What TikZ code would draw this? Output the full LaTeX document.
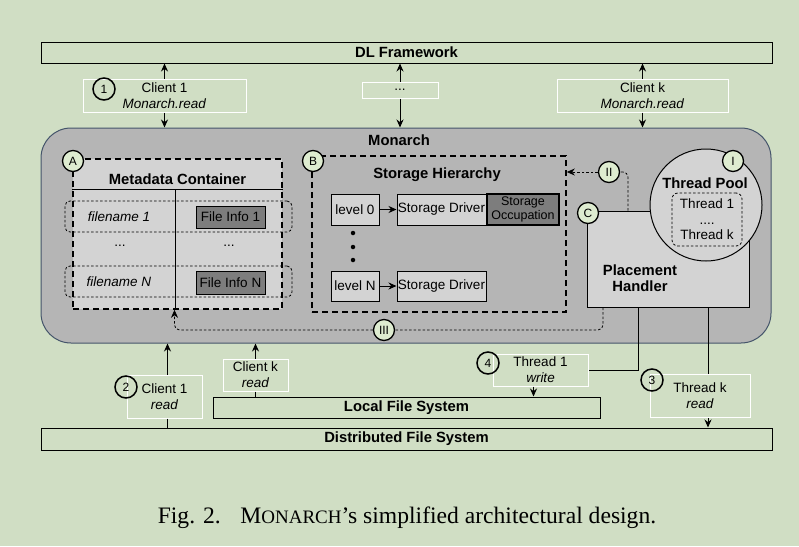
\documentclass[tikz,border=0pt]{standalone}
\usepackage{fontspec}
\setmainfont{Liberation Serif}
\newfontfamily\arialfont{Liberation Sans}
\usetikzlibrary{arrows.meta}
\definecolor{bggreen}{RGB}{208,222,196}
\definecolor{monarchgray}{RGB}{181,181,181}
\definecolor{boxgray}{RGB}{211,211,211}
\definecolor{infogray}{RGB}{125,125,125}
\definecolor{edgeblue}{RGB}{68,84,106}
\definecolor{tagfill}{RGB}{222,236,208}
\newcommand\regfont{\arialfont\fontsize{13.5}{16}\selectfont}
\newcommand\boldfont{\arialfont\bfseries\fontsize{14.8}{16.5}\selectfont}
\newcommand\tagfont{\arialfont\fontsize{12}{12}\selectfont}

\begin{document}
\begin{tikzpicture}[x=1pt, y=-1pt, every node/.style={font=\regfont},
    frame/.style={rectangle, draw, line width=1pt, inner sep=0pt},
    labelbox/.style={rectangle, draw=white, line width=1pt, align=center, inner sep=0pt},
    tag/.style={circle, draw, line width=1.3pt, fill=tagfill, minimum size=21pt, inner sep=0pt, font=\tagfont},
    stepnum/.style={circle, draw, line width=1.5pt, minimum size=22pt, inner sep=0pt, font=\tagfont},
    thickdash/.style={draw, line width=1.6pt, dash pattern=on 6pt off 4pt},
    dotline/.style={line width=0.8pt, dash pattern=on 2.5pt off 2pt},
    >={Stealth[length=8pt, width=7pt]}]
    \useasboundingbox [fill=bggreen] (0, 0) rectangle (799, 546);

    %frameworks and file systems
    \node at (406.5, 52.5) [frame, minimum width=731pt, minimum height=21pt, font=\boldfont] (dl) {DL Framework};
    \node at (406.5, 439) [frame, minimum width=731pt, minimum height=22pt, font=\boldfont] (dfs) {Distributed File System};
    \node at (406.5, 407.5) [frame, minimum width=387pt, minimum height=21pt, font=\boldfont] (lfs) {Local File System};

    %client boxes above
    \node at (164.5, 95.5) [labelbox, minimum width=163pt, minimum height=33pt] (c1) {Client 1\\ \textit{Monarch.read}};
    \node at (400, 90) [labelbox, minimum width=76pt, minimum height=16pt] (cdots) {...};
    \node at (642.5, 95.5) [labelbox, minimum width=171pt, minimum height=33pt] (ck) {Client k\\ \textit{Monarch.read}};

    %client and thread boxes below
    \node at (164.5, 396.5) [labelbox, minimum width=75pt, minimum height=43pt] (c1r) {Client 1\\ \textit{read}};
    \node at (255.5, 375) [labelbox, minimum width=65pt, minimum height=32pt] (ckr) {Client k\\ \textit{read}};
    \node at (540.5, 370) [labelbox, minimum width=95pt, minimum height=32pt] (t1w) {Thread 1\\ \textit{write}};
    \node at (700, 396) [labelbox, minimum width=100pt, minimum height=43pt] (tkr) {Thread k\\ \textit{read}};

    %Monarch
    \node at (406, 235.5) [rectangle, rounded corners=30pt, draw=edgeblue, line width=1pt, fill=monarchgray, minimum width=730pt, minimum height=215pt] (monarch) {};
    \node at (399, 140) [font=\boldfont] (mtitle) {Monarch};

    %Metadata container
    \node at (177.5, 234) [rectangle, fill=boxgray, thickdash, minimum width=209pt, minimum height=150pt] (mc) {};
    \node at (177.5, 179) [font=\boldfont] (mctitle) {Metadata Container};
    \draw [line width=1pt] ([yshift=-31pt]mc.north west) -- ([yshift=-31pt]mc.north east);
    \draw [line width=1pt] ([xshift=-2.5pt, yshift=-31pt]mc.north) -- ([xshift=-2.5pt]mc.south);
    \node at (178.5, 216.5) [rectangle, draw, dotline, rounded corners=5pt, minimum width=227pt, minimum height=31pt] (row1) {};
    \node at (178.5, 281.5) [rectangle, draw, dotline, rounded corners=5pt, minimum width=227pt, minimum height=31pt] (rowN) {};
    \node at (119, 217) (fn1) {\textit{filename 1}};
    \node at (119, 282) (fnN) {\textit{filename N}};
    \node at (230.5, 217) [frame, fill=infogray, minimum width=69pt, minimum height=22pt] (fi1) {File Info 1};
    \node at (230.5, 282.5) [frame, fill=infogray, minimum width=69pt, minimum height=23pt] (fiN) {File Info N};
    \node at (120, 246) (fndots) {...};
    \node at (229, 246) (fidots) {...};

    %Storage hierarchy
    \node at (439, 234) [rectangle, thickdash, minimum width=254pt, minimum height=156pt] (sh) {};
    \node at (437, 175) [font=\boldfont] (shtitle) {Storage Hierarchy};
    \node at (355, 209.5) [frame, fill=boxgray, minimum width=48pt, minimum height=31pt] (lvl0) {level 0};
    \node at (441.5, 209.5) [frame, fill=boxgray, minimum width=89pt, minimum height=31pt] (sd0) {Storage Driver};
    \node at (523, 209.5) [frame, line width=1.6pt, fill=infogray, minimum width=72pt, minimum height=31pt, align=center, font=\arialfont\fontsize{12.5}{14}\selectfont] (occ) {Storage\\ Occupation};
    \node at (355, 286) [frame, fill=boxgray, minimum width=48pt, minimum height=30pt] (lvlN) {level N};
    \node at (441.5, 286) [frame, fill=boxgray, minimum width=89pt, minimum height=30pt] (sdN) {Storage Driver};
    \foreach \dy in {233, 247, 260}
        \node at (353, \dy) [circle, fill, inner sep=0pt, minimum size=4.5pt] (dot\dy) {};
    \draw [->, line width=1pt] (lvl0.east) -- (sd0.west);
    \draw [->, line width=1pt] (lvlN.east) -- (sdN.west);

    %Placement handler and thread pool
    \node at (668, 259) [frame, fill=boxgray, minimum width=162pt, minimum height=96pt] (ph) {};
    \node at (640, 278) [font=\boldfont, align=center] (phtext) {Placement\\ Handler};
    \node at (706, 205) [circle, draw, line width=1pt, fill=boxgray, minimum size=112pt] (pool) {};
    \node at (705, 183) [font=\boldfont] (pooltitle) {Thread Pool};
    \node at (707, 219.5) [rectangle, draw, dotline, rounded corners=6pt, minimum width=70pt, minimum height=53pt, align=center] (threads) {Thread 1\\[-0.5pt] ....\\[-0.5pt] Thread k};

    %tags
    \node at (73, 161) [tag] (tagA) {A};
    \node at (313, 161) [tag] (tagB) {B};
    \node at (588, 213) [tag] (tagC) {C};
    \node at (733, 161) [tag] (tagI) {I};
    \node at (609, 172) [tag] (tagII) {II};
    \node at (384, 330) [tag] (tagIII) {III};
    \node at (104, 89) [stepnum] (s1) {1};
    \node at (126, 387) [stepnum] (s2) {2};
    \node at (652, 380) [stepnum] (s3) {3};
    \node at (488, 363) [stepnum] (s4) {4};

    %Relations inside Monarch
    \draw [dotline, rounded corners=5pt] ([xshift=-40pt]ph.north) |- (tagII.east);
    \draw [dotline, ->] (tagII.west) -- (sh.east |- tagII);
    \draw [dotline, rounded corners=5pt] ([xshift=-65pt]ph.south) |- (tagIII.east);
    \draw [dotline, rounded corners=5pt, ->] (tagIII.west) -| ([xshift=-3pt]mc.south);

    %Relations clients and frameworks
    \draw [->, line width=1pt] (c1.north) -- (c1.north |- dl.south);
    \draw [->, line width=1pt] (c1.south) -- (c1.south |- monarch.north);
    \draw [->, line width=1pt] (cdots.north) -- (cdots.north |- dl.south);
    \draw [->, line width=1pt] (cdots.south) -- (cdots.south |- monarch.north);
    \draw [->, line width=1pt] (ck.north) -- (ck.north |- dl.south);
    \draw [->, line width=1pt] (ck.south) -- (ck.south |- monarch.north);
    \draw [->, line width=1pt] ([xshift=3pt]c1r.north) -- ([xshift=3pt]c1r.north |- monarch.south);
    \draw [line width=1pt] ([xshift=3pt]c1r.south) -- ([xshift=3pt]c1r.south |- dfs.north);
    \draw [->, line width=1pt] (ckr.north) -- (ckr.north |- monarch.south);
    \draw [line width=1pt] (ckr.south) -- (ckr.south |- lfs.north);

    %Relations threads
    \draw [line width=1pt] ([xshift=-30pt]ph.south) |- (t1w.east);
    \draw [->, line width=1pt] ([xshift=-7pt]t1w.south) -- ([xshift=-7pt]t1w.south |- lfs.north);
    \coordinate (tkx) at ([xshift=40pt]ph.south);
    \draw [line width=1pt] (tkx) -- (tkx |- tkr.north);
    \draw [->, line width=1pt] (tkx |- tkr.south) -- (tkx |- dfs.north);

    %caption
    \node at (407, 518) [font=\fontsize{23.6}{25}\selectfont] (caption) {Fig. 2.\hspace{0.5em} M{\fontsize{19}{20}\selectfont ONARCH}'s simplified architectural design.};
\end{tikzpicture}
\end{document}
